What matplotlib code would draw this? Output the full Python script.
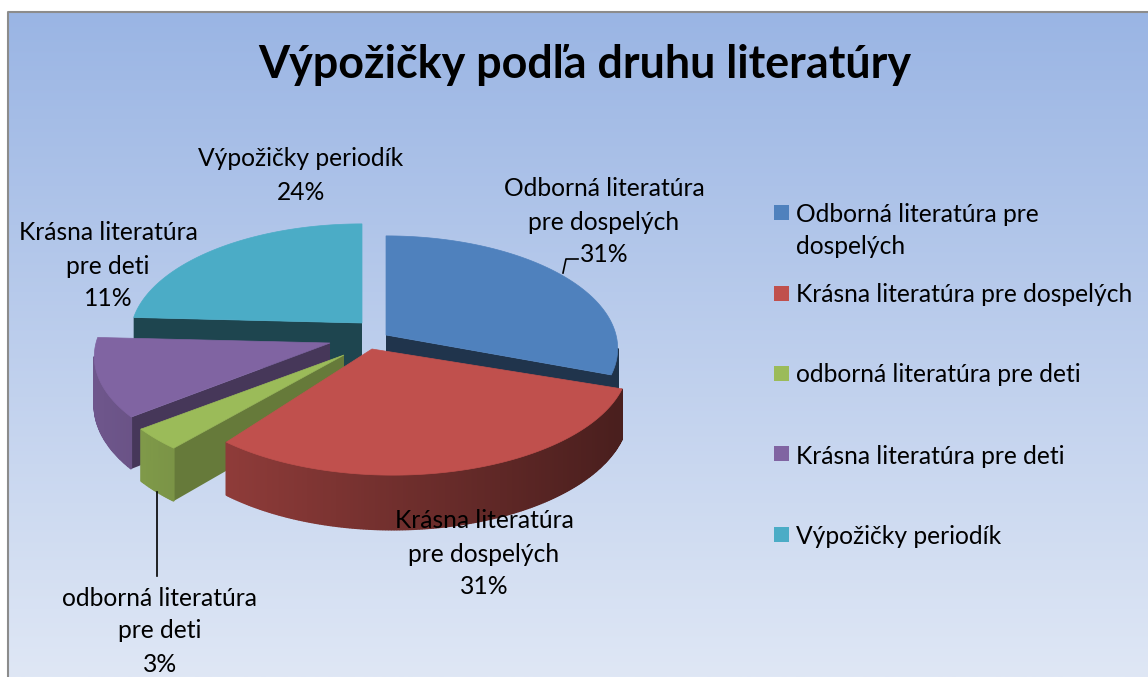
import numpy as np
import matplotlib
matplotlib.use('Agg')
import matplotlib.pyplot as plt
from matplotlib.colors import to_rgb, LinearSegmentedColormap
from matplotlib.patches import Polygon, Rectangle

plt.rcParams['font.family'] = ['Lato', 'DejaVu Sans']

# Data
title = 'Výpožičky podľa druhu literatúry'
legend_names = ['Odborná literatúra pre\ndospelých', 'Krásna literatúra pre dospelých',
                'odborná literatúra pre deti', 'Krásna literatúra pre deti', 'Výpožičky periodík']
label_names = ['Odborná literatúra\npre dospelých', 'Krásna literatúra\npre dospelých',
               'odborná literatúra\npre deti', 'Krásna literatúra\npre deti', 'Výpožičky periodík']
values = [30.6, 30.6, 3.2, 11.4, 24.2]

# Colours and layout (pixels of the output image)
colors = ['#4F81BD', '#C0504D', '#9BBB59', '#8064A2', '#4BACC6']
face_shade = [0.40, 0.40, 0.655, 0.55, 0.40]
centre_x = [386, 393, 344, 330, 362]
centre_y = [335, 349, 355, 343, 323]
apex_shift = [0, -21, 0, 0, 0]
radius = [230, 234, 239, 234, 230]
draw_order = [0, 4, 3, 2, 1]
label_x = [604, 484, 160, 108, 301]
label_y = [189, 521, 598, 233, 159]
legend_y = [214, 294, 375, 456, 536]
legend_box_y = [212, 293, 373, 453, 534]
depth_k = 0.12
flat_r = 111
wall_h = 48
line_gap = 33
label_px = 24.6
W, H = 1148, 677


def project(i, ang):
    # ang is clockwise from 12 o'clock, radians
    d = 1 + depth_k * np.cos(ang)
    x = centre_x[i] + radius[i] * np.sin(ang) / d
    y = centre_y[i] - flat_r * np.cos(ang) / d
    return x, y, wall_h / d


def shade(rgb, f):
    return tuple(c * f for c in rgb)


fig = plt.figure(figsize=(W / 100, H / 100), dpi=100, facecolor='white')
ax = fig.add_axes([0, 0, 1, 1])
ax.set_xlim(0, W)
ax.set_ylim(H, 0)
ax.axis('off')

# background gradient with the grey frame at left and top
cmap = LinearSegmentedColormap.from_list('bg', ['#9AB5E4', '#DFE7F5'])
ax.imshow(np.linspace(0, 1, 256).reshape(-1, 1), cmap=cmap, aspect='auto',
          extent=[8, W, H, 12], zorder=0)
ax.set_xlim(0, W)
ax.set_ylim(H, 0)
ax.plot([8, 8, W], [H, 12, 12], color='#8C8C8C', lw=1.5, zorder=1)

# pie
edges = np.concatenate([[0], np.cumsum(values)]) / np.sum(values) * 2 * np.pi
z = 2
for i in draw_order:
    rgb = to_rgb(colors[i])
    a = np.linspace(edges[i], edges[i + 1], max(int(values[i] * 6), 12))
    xs, ys, hs = project(i, a)
    ax_x = centre_x[i] + apex_shift[i]
    ax_y = centre_y[i]
    mid = len(a) // 2

    # cut faces that look towards the viewer
    for k in (0, -1):
        ex, ey = xs[k] - ax_x, ys[k] - ax_y
        if abs(ex) < 1:
            continue
        if ys[mid] < ax_y + ey * (xs[mid] - ax_x) / ex:
            ax.add_patch(Polygon([(ax_x, ax_y), (xs[k], ys[k]), (xs[k], ys[k] + hs[k]),
                                  (ax_x, ax_y + wall_h)],
                                 fc=shade(rgb, face_shade[i]), ec='none', zorder=z))
            z += 1

    # outer wall, darker towards the right
    for k in range(len(a) - 1):
        if xs[k + 1] >= xs[k]:
            continue
        f = 0.38 + (623 - 0.5 * (xs[k] + xs[k + 1])) * 0.000914
        c = shade(rgb, f)
        ax.add_patch(Polygon([(xs[k], ys[k]), (xs[k + 1], ys[k + 1]),
                              (xs[k + 1], ys[k + 1] + hs[k + 1]), (xs[k], ys[k] + hs[k])],
                             fc=c, ec=c, lw=1.2, joinstyle='bevel', zorder=z))
        z += 0.001
    z = int(z) + 1

    # top
    ax.add_patch(Polygon(np.column_stack([np.r_[ax_x, xs], np.r_[ax_y, ys]]),
                         fc=rgb, ec=rgb, lw=0.5, zorder=z))
    z += 1

# leader lines
ax.plot([563, 566, 578], [273, 259, 259], color='black', lw=1.2, zorder=z)
ax.plot([157, 157], [492, 576], color='black', lw=1.2, zorder=z)
z += 1

# title and data labels
ax.text(585, 65, title, fontsize=32.3, fontweight='bold', color='black',
        ha='center', va='center', zorder=z)
for i, name in enumerate(label_names):
    lines = name.split('\n') + [f'{round(values[i])}%']
    for j, line in enumerate(lines):
        ax.text(label_x[i], label_y[i] + j * line_gap, line, fontsize=label_px * 0.72,
                ha='center', va='center', color='black', zorder=z)

# legend
for i, name in enumerate(legend_names):
    ax.add_patch(Rectangle((774, legend_box_y[i] - 7), 15, 15, fc=colors[i], ec='none', zorder=z))
    for j, line in enumerate(name.split('\n')):
        ax.text(796, legend_y[i] + j * line_gap, line, fontsize=label_px * 0.72,
                ha='left', va='center', color='black', zorder=z)

fig.savefig('out.png', dpi=100)
